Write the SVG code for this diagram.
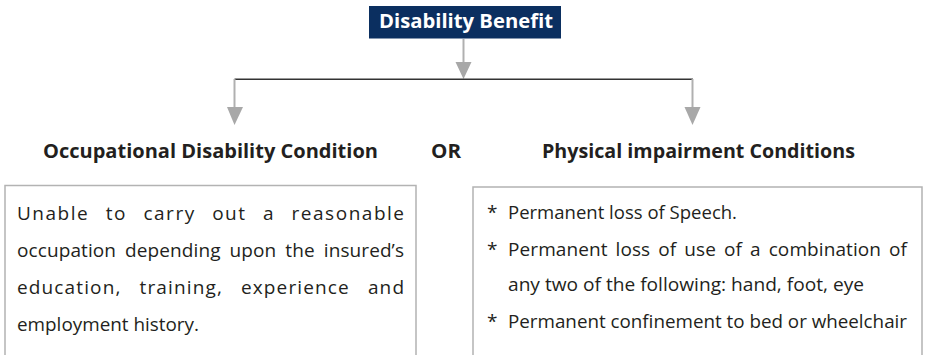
<svg xmlns="http://www.w3.org/2000/svg" width="925" height="355" viewBox="0 0 925 355">
<defs>
<style>
.title{font-family:"Open Sans","Noto Sans",sans-serif;font-weight:bold;font-size:19px;fill:#ffffff}
.head{font-family:"Open Sans","Noto Sans",sans-serif;font-weight:bold;font-size:20px;fill:#231f20}
.body{font-family:"Open Sans","Noto Sans",sans-serif;font-size:19px;fill:#231f20}
.box{fill:#ffffff;stroke:#b3b3b3;stroke-width:1.5}
.stem{stroke:#b0b0b0;stroke-width:2;fill:none}
.bar{stroke:#333333;stroke-width:1.5;fill:none}
.head-arrow{fill:#a8a8a8}
</style>
</defs>
<rect width="925" height="355" fill="#ffffff"/>
<g id="connectors">
<line class="stem" x1="463.5" y1="39" x2="463.5" y2="64"/>
<polygon class="head-arrow" points="455.5,62 471.5,62 463.5,79"/>
<line class="bar" x1="234.5" y1="79.3" x2="693" y2="79.3"/>
<line class="stem" x1="234.5" y1="79" x2="234.5" y2="109"/>
<polygon class="head-arrow" points="227,107 243,107 234.5,125"/>
<line class="stem" x1="692.5" y1="79" x2="692.5" y2="109"/>
<polygon class="head-arrow" points="684.5,107 700.5,107 692.5,125"/>
</g>
<g id="disability-benefit">
<rect x="369" y="6" width="192" height="32.5" fill="#0b2f60"/>
<text class="title" x="379" y="28" textLength="174" lengthAdjust="spacingAndGlyphs">Disability Benefit</text>
</g>
<g id="occupational">
<text class="head" x="43" y="158" textLength="335" lengthAdjust="spacingAndGlyphs">Occupational Disability Condition</text>
<path class="box" d="M5,356 V185.5 H416 V356"/>
<text class="body" x="17" y="219.5" word-spacing="10" textLength="387" lengthAdjust="spacing">Unable to carry out a reasonable</text>
<text class="body" x="17" y="256.5" word-spacing="4" textLength="387" lengthAdjust="spacing">occupation depending upon the insured’s</text>
<text class="body" x="17" y="293.5" word-spacing="12" textLength="387" lengthAdjust="spacing">education, training, experience and</text>
<text class="body" x="17" y="330.5" textLength="182" lengthAdjust="spacingAndGlyphs">employment history.</text>
</g>
<g id="or">
<text class="head" x="431" y="158" textLength="30" lengthAdjust="spacingAndGlyphs">OR</text>
</g>
<g id="physical">
<text class="head" x="542" y="158" textLength="313" lengthAdjust="spacingAndGlyphs">Physical impairment Conditions</text>
<path class="box" d="M473,356 V187 H922 V356"/>
<text class="body" x="487" y="219">*</text>
<text class="body" x="508" y="219" textLength="229" lengthAdjust="spacingAndGlyphs">Permanent loss of Speech.</text>
<text class="body" x="487" y="256">*</text>
<text class="body" x="508" y="256" word-spacing="3" textLength="399" lengthAdjust="spacing">Permanent loss of use of a combination of</text>
<text class="body" x="508" y="291" textLength="356" lengthAdjust="spacingAndGlyphs">any two of the following: hand, foot, eye</text>
<text class="body" x="487" y="327.5">*</text>
<text class="body" x="508" y="327.5" textLength="399" lengthAdjust="spacingAndGlyphs">Permanent confinement to bed or wheelchair</text>
</g>
</svg>
